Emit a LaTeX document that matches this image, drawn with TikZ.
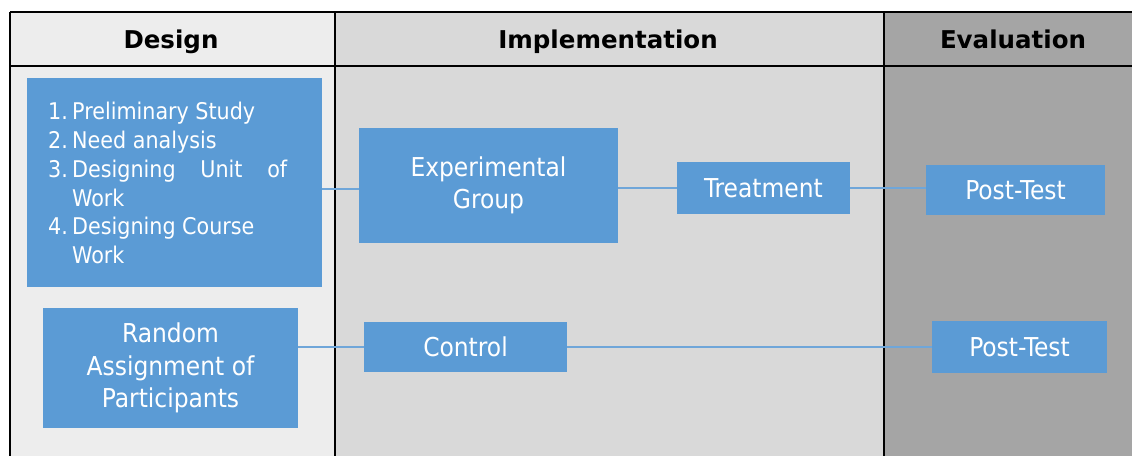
\documentclass[tikz,border=0pt]{standalone}
\usepackage{fontspec}
\setmainfont{DejaVu Sans Condensed}
\newfontfamily\hdrfont{DejaVu Sans}
\usetikzlibrary{calc}
\definecolor{boxblue}{HTML}{5B9BD5}
\definecolor{linblue}{HTML}{6FA6D9}
\definecolor{colA}{HTML}{EDEDED}
\definecolor{colB}{HTML}{D9D9D9}
\definecolor{colC}{HTML}{A5A5A5}
\tikzset{
  bx/.style={fill=boxblue, draw=none, inner sep=0pt, text=white, align=center,
    font=\fontsize{26}{32.5}\selectfont},
  conn/.style={draw=linblue, line width=1.2pt},
  grid/.style={draw=black, line width=2pt},
  hdr/.style={font=\hdrfont\fontsize{24.5}{28}\selectfont\bfseries, text=black, inner sep=0pt, anchor=base}
}
\begin{document}
\begin{tikzpicture}[x=1pt,y=-1pt]
\useasboundingbox (0,0) rectangle (1132,456);
\fill[white] (0,0) rectangle (1132,456);
% column fills
\fill[colA] (10,12) rectangle (335,456);
\fill[colB] (335,12) rectangle (884,456);
\fill[colC] (884,12) rectangle (1132,456);
% grid
\draw[grid] (10,12) -- (1132,12);
\draw[grid] (10,66) -- (1132,66);
\draw[grid] (10,12) -- (10,456);
\draw[grid] (335,12) -- (335,456);
\draw[grid] (884,12) -- (884,456);
% headers
\node[hdr] (hdesign) at (171,48) {Design};
\node[hdr] (himpl) at (608,48) {Implementation};
\node[hdr] (heval) at (1013,48) {Evaluation};
% boxes
\node[bx, minimum width=295, minimum height=209] (list) at (174.5,182.5) {};
\node[anchor=west, inner sep=0pt, text=white, font=\fontsize{23}{28.8}\selectfont] (listtxt) at (48,186)
  {\begin{tabular}{@{}l@{}}
   \makebox[24pt][l]{1.}Preliminary Study\\
   \makebox[24pt][l]{2.}Need analysis\\
   \makebox[24pt][l]{3.}\makebox[215pt][s]{Designing Unit of}\\
   \makebox[24pt][l]{}Work\\
   \makebox[24pt][l]{4.}Designing Course\\
   \makebox[24pt][l]{}Work
   \end{tabular}};
\node[bx, minimum width=259, minimum height=115] (exp) at (488.5,185.5) {Experimental\\Group};
\node[bx, minimum width=173, minimum height=52] (treat) at (763.5,188) {Treatment};
\node[bx, minimum width=179, minimum height=50] (post1) at (1015.5,190) {Post-Test};
\node[bx, minimum width=255, minimum height=120] (random) at (170.5,368) {Random\\Assignment of\\Participants};
\node[bx, minimum width=203, minimum height=50] (control) at (465.5,347) {Control};
\node[bx, minimum width=175, minimum height=52] (post2) at (1019.5,347) {Post-Test};
% connectors
\draw[conn] ([yshift=-3.5pt]list.east |- exp.west) -- ([yshift=-3.5pt]exp.west);
\draw[conn] (exp.east |- treat.west) -- (treat.west);
\draw[conn] (treat.east) -- (treat.east -| post1.west);
\draw[conn] (random.east |- control.west) -- (control.west);
\draw[conn] (control.east) -- (post2.west);
\end{tikzpicture}
\end{document}
